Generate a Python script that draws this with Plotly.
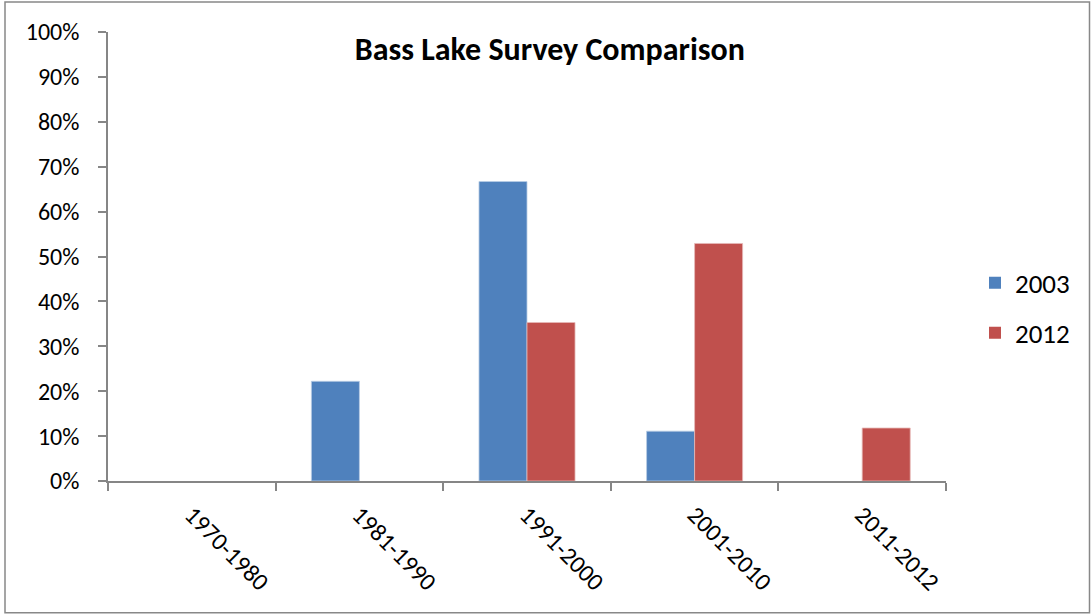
import plotly.graph_objects as go

categories = ["1970-1980", "1981-1990", "1991-2000", "2001-2010", "2011-2012"]
series_names = ["2003", "2012"]
values_2003 = [0.0, 0.222, 0.667, 0.111, 0.0]
values_2012 = [0.0, 0.0, 0.353, 0.529, 0.118]
y_ticks = [0, 0.1, 0.2, 0.3, 0.4, 0.5, 0.6, 0.7, 0.8, 0.9, 1.0]
title_text = "Bass Lake Survey Comparison"

colors = ["#4F81BD", "#C0504D"]
edge_colors = ["#B9CDE5", "#E6B9B8"]
FONT = "Carlito, Calibri, Lato, sans-serif"
AXIS_COLOR = "#868686"

fig = go.Figure()
for name, vals, c, ec in zip(series_names, [values_2003, values_2012], colors, edge_colors):
    fig.add_trace(go.Bar(
        x=categories, y=vals, name=name, legendgroup=name,
        marker=dict(color=c, line=dict(color=ec, width=[0.8 if v > 0 else 0 for v in vals])),
    ))

# outer chart border
L, R, T, B = 108, 946, 32, 481.5
def px_to_paper_x(p):
    return (p - L) / (R - L)
def px_to_paper_y(p):
    return (B - p) / (B - T)

fig.add_shape(type="rect", xref="paper", yref="paper",
              x0=px_to_paper_x(5), x1=px_to_paper_x(1089.5),
              y0=px_to_paper_y(613.5), y1=px_to_paper_y(2),
              line=dict(color="#888888", width=1.5), fillcolor="rgba(0,0,0,0)", layer="below")

fig.update_layout(
    width=1091, height=615,
    margin=dict(l=L, r=1091 - R, t=T, b=615 - B),
    paper_bgcolor="white", plot_bgcolor="white",
    barmode="group", bargap=0.427, bargroupgap=0.0,
    font=dict(family=FONT, color="#000000", size=24),
    title=dict(text="<b>" + title_text + "</b>", x=0.504, xref="container", xanchor="center",
               y=1 - 48.5 / 615, yref="container", yanchor="middle",
               font=dict(family=FONT, size=32, color="#000000")),
    legend=dict(x=px_to_paper_x(975), xanchor="left", y=px_to_paper_y(308.5), yanchor="middle",
                font=dict(family=FONT, size=27, color="#000000"),
                traceorder="grouped", tracegroupgap=12, itemwidth=30,
                bgcolor="rgba(0,0,0,0)"),
    showlegend=True,
)

fig.update_xaxes(
    type="category", range=[-0.5, 4.5], tickson="boundaries",
    showline=True, linecolor=AXIS_COLOR, linewidth=1.5,
    ticks="outside", ticklen=8, tickcolor=AXIS_COLOR, tickwidth=1.5,
    tickangle=45, showgrid=False, zeroline=False, ticklabelstandoff=8,
    tickfont=dict(family=FONT, size=24.5, color="#000000"),
)
fig.update_yaxes(
    range=[0, 1], tickvals=y_ticks, tickformat=".0%",
    showline=True, linecolor=AXIS_COLOR, linewidth=1.5,
    ticks="outside", ticklen=8, tickcolor=AXIS_COLOR, tickwidth=1.5,
    showgrid=False, zeroline=False, ticklabelstandoff=14,
    tickfont=dict(family=FONT, size=24, color="#000000"),
)

fig.write_html("out.html", config={"displayModeBar": False},
               post_script="document.body.style.margin='0';")
